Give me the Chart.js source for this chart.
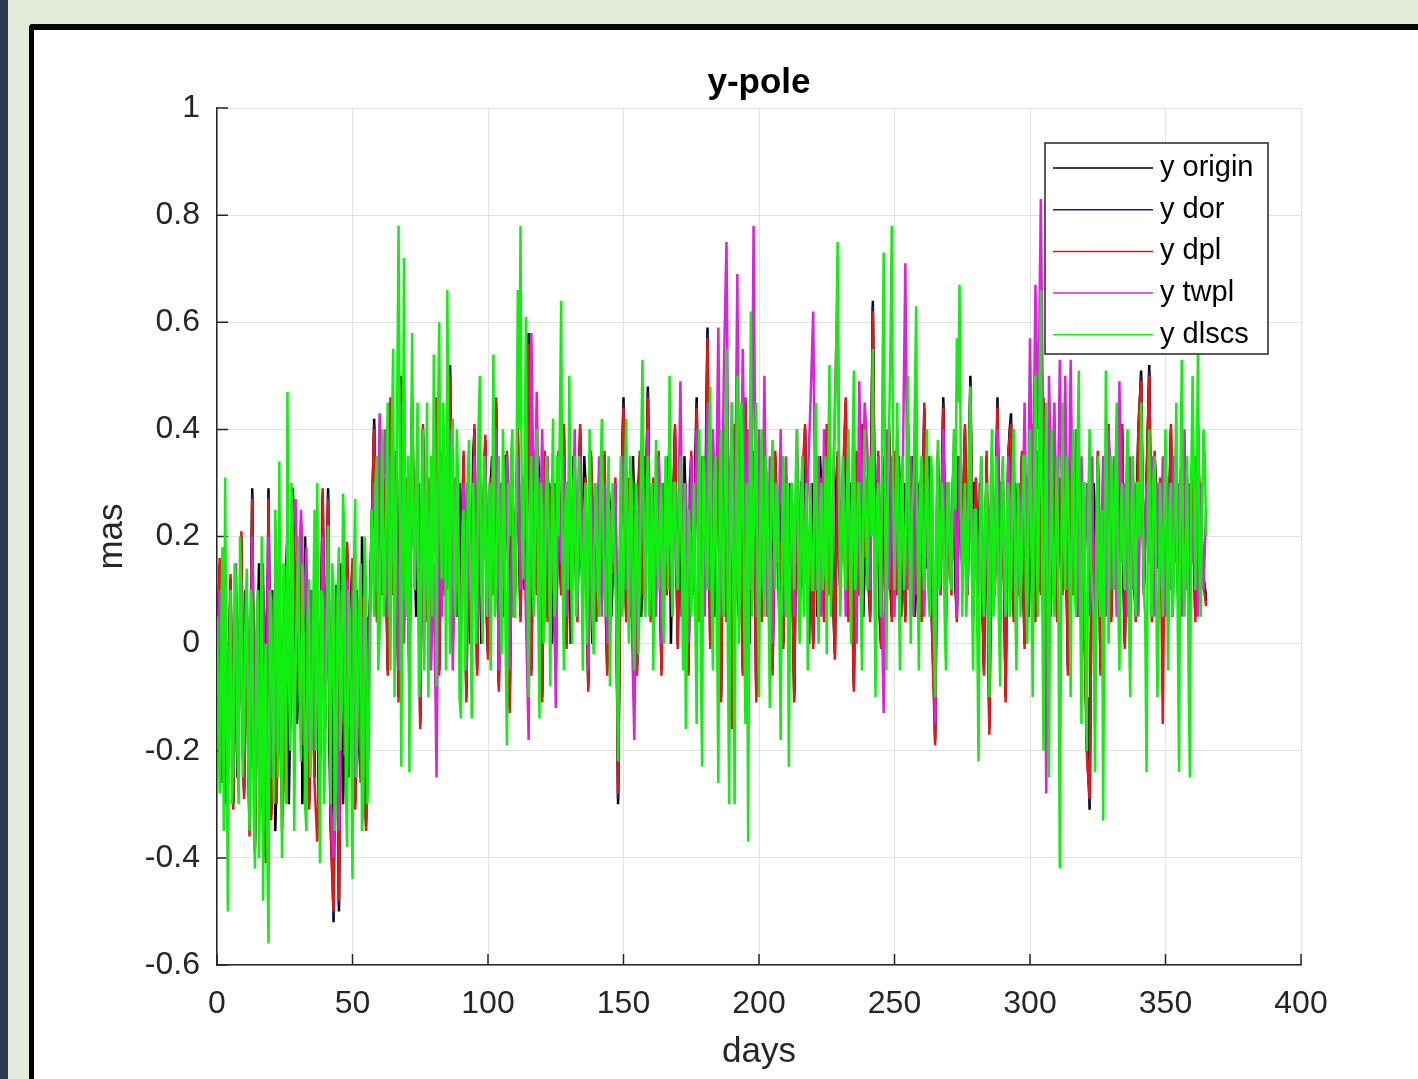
<!DOCTYPE html>
<html>
<head>
<meta charset="utf-8">
<title>y-pole</title>
<script src="https://cdn.jsdelivr.net/npm/chart.js@4.4.1/dist/chart.umd.min.js"></script>
<style>
  html, body { margin: 0; padding: 0; width: 1418px; height: 1079px; overflow: hidden; background: #e1ebd8; }
  #strip { position: absolute; left: 0; top: 0; width: 8px; height: 1079px; background: #2c394d; }
  #fig { position: absolute; left: 29px; top: 24px; width: 1400px; height: 1070px;
         border-left: 5px solid #000; border-top: 6px solid #000; border-top-left-radius: 4px; background: #fff; }
  #chartY { position: absolute; left: 0; top: 0; }
</style>
</head>
<body>
<div id="strip"></div>
<div id="fig"><canvas id="chartY" width="1384" height="1049"></canvas></div>
<script>
// ---- data (mas). daily samples, plus half-day samples where the picture is denser ----
const seriesNames = ["y origin", "y dor", "y dpl", "y twpl", "y dlscs"];
const xTicks = [0, 50, 100, 150, 200, 250, 300, 350, 400];
const yTicks = [-0.6, -0.4, -0.2, 0, 0.2, 0.4, 0.6, 0.8, 1];
const days = Array.from({ length: 366 }, (_, i) => i);

const yOrigin = [
  -.10,.15,-.25,.05,-.20,.12,-.30,.08,-.15,.20,
  -.28,.05,-.35,.29,-.38,.02,-.30,.10,-.40,.29,
  -.32,.05,-.25,.15,-.30,-.05,.20,-.15,.29,.05,
  -.10,.22,-.18,.10,-.30,.05,-.25,.15,-.20,.28,
  -.15,.29,-.35,-.52,.10,-.50,.05,-.20,.18,-.10,
  .15,-.30,.05,-.25,.10,-.34,-.05,.20,.42,.05,
  .35,.10,.30,-.05,.45,.10,.35,-.10,.50,.05,
  .30,-.05,.45,.15,.25,-.15,.40,.05,.30,.10,
  .20,.45,-.05,.35,.10,.25,.52,.00,.30,.15,
  .05,.35,-.10,.25,.10,.40,-.05,.30,.15,.38,
  -.02,.30,.10,.45,-.08,.25,.15,.35,-.12,.30,
  .10,.40,.05,.30,.20,.58,-.05,.35,.10,.30,
  -.10,.35,.05,.28,.15,-.05,.35,.10,.40,.00,
  .30,.15,.25,.05,.40,.10,.30,-.08,.35,.15,
  .05,.30,.10,.35,-.05,.25,.12,.30,-.30,.20,
  .46,.05,.30,.10,.25,-.05,.35,.10,.20,.48,
  .05,.30,.15,.35,-.05,.25,.10,.30,.15,.40,
  .00,.30,.10,.25,-.05,.35,.10,.46,.05,.30,
  .10,.59,.00,.35,.15,.45,-.10,.40,.05,.30,
  -.15,.40,.10,.30,-.05,.45,.10,.25,.35,-.10,
  .30,.05,.40,.10,.25,-.05,.35,.15,.20,.00,
  .30,.10,.25,-.10,.35,.05,.30,.40,.10,.20,
  .00,.35,.15,.30,.05,.40,.10,.20,-.02,.35,
  .10,.30,.45,.05,.25,-.08,.35,.10,.40,.15,
  .30,.05,.64,.10,.35,.00,.30,.15,.40,.05,
  .35,.10,.30,.20,.05,.40,.15,.30,.10,.25,
  .05,.44,.15,.30,.00,-.18,.35,.10,.46,.05,
  .25,.10,.35,.05,.30,.15,.40,.10,.50,.05,
  .30,.10,.25,-.05,.35,-.16,.30,.10,.46,.05,
  .30,-.10,.35,.43,.05,.25,.10,.35,.00,.30,
  .15,.40,.05,.35,.10,.45,-.05,.30,.15,.40,
  .05,.30,.10,.35,-.05,.40,.10,.25,.15,.30,
  .05,-.20,-.31,.25,.10,.35,-.05,.30,.15,.40,
  .05,.30,.10,.25,.40,.00,.35,.15,.30,.05,
  .40,.51,.10,.30,.52,.05,.35,.15,.30,.05,
  .35,.10,.40,.15,.25,.05,.35,.10,.30,.15,
  .35,.05,.40,.15,.13,.08
];
// y origin at day + 0.5
const yOriginMid = [
  .05,-.15,-.05,-.30,.00,-.15,-.05,-.25,.05,-.20,
  .10,-.20,.05,-.10,-.15,.15,-.20,.05,-.10,-.05,
  .10,-.35,.05,-.20,.10,.15,-.30,.10,-.20,-.15,
  .05,-.30,.20,-.15,.10,-.10,.05,-.30,.10,-.05,
  .10,-.20,.05,-.15,-.25,.15,-.30,.10,-.25,.10,
  -.15,.10,-.20,.20,-.25,.05,.10,.30,.15,.30,
  .15,.25,.10,.30,.20,.25,.05,.30,.20,.20,
  .10,.30,.20,.05,.30,.20,.10,.25,.15,.35,
  .30,.10,.30,.15,.35,.40,.20,.15,.05,.30,
  .25,.10,.30,.00,.35,.15,.25,.00,.30,.05,
  .20,.35,.15,.25,.30,.05,.35,.15,.20,.05,
  .30,.15,.30,.10,.45,.25,.20,.15,.35,.05,
  .20,.15,.30,.00,.30,.20,.15,.30,.20,.30,
  .00,.35,.10,.30,.15,.35,.05,.25,.00,.30,
  .20,.15,.35,.05,.30,.05,.25,.00,.05,.35,
  .15,.30,.05,.35,.10,.30,.05,.35,.30,.20,
  .20,.05,.30,.10,.30,.15,.35,.00,.30,.15,
  .20,.05,.35,.10,.30,.15,.35,.20,.25,.35,
  .40,.25,.30,.05,.35,.15,.25,.20,.35,.10,
  .20,.35,.05,.25,.20,.30,.00,.35,.15,.20,
  .15,.30,.20,.05,.30,.15,.25,.05,.35,.20,
  .15,.30,.05,.20,.15,.30,.10,.25,.00,.30,
  .25,.05,.35,.10,.30,.20,.25,.05,.30,.15,
  .25,.35,.20,.30,.05,.30,.20,.35,.05,.30,
  .10,.40,.30,.20,.05,.35,.10,.35,.10,.30,
  .20,.35,.05,.30,.25,.15,.35,.05,.30,.10,
  .30,.20,.35,.10,.05,.20,.25,.30,.20,.30,
  .15,.30,.10,.35,.20,.30,.15,.35,.25,.30,
  .15,.30,.05,.20,.05,.25,.15,.30,.20,.30,
  .10,.20,.40,.15,.30,.10,.25,.10,.25,.05,
  .35,.15,.30,.10,.35,.15,.20,.05,.35,.10,
  .25,.15,.30,.10,.25,.20,.30,.05,.30,.10,
  -.05,-.10,.05,.30,.15,.25,.05,.35,.20,.30,
  .15,.25,.05,.35,.10,.25,.20,.30,.10,.30,
  .45,.25,.20,.40,.25,.20,.30,.25,.10,.25,
  .20,.30,.05,.30,.10,.30,.20,.25,.05,.30,
  .15,.30,.25,.15,.10
];

const yDor = [
  -.11,.14,-.24,.06,-.21,.12,-.29,.07,-.16,.19,
  -.27,.06,-.34,.28,-.37,.03,-.31,.09,-.39,.28,
  -.31,.06,-.26,.14,-.29,-.04,.19,-.14,.28,.06,
  -.11,.21,-.17,.11,-.29,.06,-.24,.14,-.21,.27,
  -.14,.28,-.34,-.51,.11,-.49,.06,-.19,.17,-.09,
  .14,-.29,.06,-.24,.11,-.33,-.04,.19,.41,.06,
  .34,.11,.29,-.04,.44,.11,.34,-.09,.49,.06,
  .29,-.04,.44,.14,.26,-.14,.39,.06,.29,.11,
  .21,.44,-.04,.34,.11,.26,.51,.01,.29,.14,
  .06,.34,-.09,.26,.11,.39,-.04,.29,.14,.37,
  -.01,.29,.11,.44,-.07,.26,.14,.34,-.11,.29,
  .11,.39,.06,.29,.21,.57,-.04,.34,.11,.29,
  -.09,.34,.06,.27,.14,-.04,.34,.11,.39,.01,
  .29,.14,.26,.06,.39,.11,.29,-.07,.34,.14,
  .06,.29,.11,.34,-.04,.26,.11,.29,-.29,.21,
  .45,.06,.29,.11,.26,-.04,.34,.11,.21,.47,
  .06,.29,.14,.34,-.04,.26,.11,.29,.14,.39,
  .01,.29,.11,.26,-.04,.34,.11,.45,.06,.29,
  .11,.58,.01,.34,.14,.44,-.09,.39,.06,.29,
  -.14,.39,.11,.29,-.04,.44,.11,.26,.34,-.09,
  .29,.06,.39,.11,.26,-.04,.34,.14,.21,.01,
  .29,.11,.26,-.09,.34,.06,.29,.39,.11,.21,
  .01,.34,.14,.29,.06,.39,.11,.21,-.01,.34,
  .11,.29,.44,.06,.26,-.07,.34,.11,.39,.14,
  .29,.06,.63,.11,.34,.01,.29,.14,.39,.06,
  .34,.11,.29,.21,.06,.39,.14,.29,.11,.26,
  .06,.43,.14,.29,.01,-.17,.34,.11,.45,.06,
  .26,.11,.34,.06,.29,.14,.39,.11,.49,.06,
  .29,.11,.26,-.04,.34,-.15,.29,.11,.45,.06,
  .29,-.09,.34,.42,.06,.26,.11,.34,.01,.29,
  .14,.39,.06,.34,.11,.44,-.04,.29,.14,.39,
  .06,.29,.11,.34,-.04,.39,.11,.26,.14,.29,
  .06,-.19,-.30,.26,.11,.34,-.04,.29,.14,.39,
  .06,.29,.11,.26,.39,.01,.34,.14,.29,.06,
  .39,.50,.11,.29,.51,.06,.34,.14,.29,.06,
  .34,.11,.39,.14,.26,.06,.34,.11,.29,.14,
  .34,.06,.39,.14,.12,.09
];

const yDpl = [
  -.09,.16,-.26,.04,-.19,.13,-.31,.09,-.14,.21,
  -.29,.04,-.36,.27,-.39,.01,-.29,.11,-.41,.27,
  -.33,.04,-.30,.12,-.35,-.20,.18,-.16,.27,.04,
  -.09,.23,-.19,.09,-.31,.04,-.26,-.37,-.21,.29,
  -.16,.27,-.36,-.50,.09,-.48,.04,-.21,.19,-.11,
  .16,-.31,.04,-.26,.09,-.35,-.06,.21,.40,.04,
  .36,.09,.31,-.06,.46,.09,.36,-.11,.48,.04,
  .31,-.06,.46,.16,.24,-.16,.41,.04,.31,.09,
  .19,.46,-.06,.36,.09,.24,.50,-.01,.31,.16,
  .04,.36,-.11,.24,.09,.41,-.06,.31,.16,.39,
  -.03,.31,.09,.46,-.09,.24,.16,.36,-.13,.31,
  .09,.41,.04,.31,.19,.56,-.06,.36,.09,.31,
  -.11,.36,.04,.29,.16,-.06,.36,.09,.41,-.01,
  .31,.16,.24,.04,.41,.09,.31,-.09,.36,.16,
  .04,.31,.09,.36,-.06,.24,.13,.31,-.28,.19,
  .44,.04,.31,.09,.24,-.06,.36,.09,.19,.46,
  .04,.31,.16,.36,-.06,.24,.09,.31,.16,.41,
  -.01,.31,.09,.24,-.06,.36,.09,.44,.04,.31,
  .09,.57,-.01,.36,.16,.46,-.11,.41,.04,.31,
  -.16,.41,.09,.31,-.06,.46,.09,.24,.36,-.11,
  .31,.04,.41,.09,.24,-.06,.36,.16,.19,-.01,
  .31,.09,.24,-.11,.36,.04,.31,.41,.09,.19,
  -.01,.36,.16,.31,.04,.41,.09,.19,-.03,.36,
  .09,.31,.46,.04,.24,-.09,.36,.09,.41,.16,
  .31,.04,.62,.09,.36,-.01,.31,.16,.41,.04,
  .36,.09,.31,.19,.04,.41,.16,.31,.09,.24,
  .04,.45,.16,.31,-.01,-.19,.36,.09,.44,.04,
  .24,.09,.36,.04,.31,.16,.41,.09,.48,.04,
  .31,.09,.24,-.06,.36,-.17,.31,.09,.44,.04,
  .31,-.11,.36,.41,.04,.24,.09,.36,-.01,.31,
  .16,.41,.04,.36,.09,.46,-.06,.31,.16,.41,
  .04,.31,.09,.36,-.06,.41,.09,.24,.16,.31,
  .04,-.21,-.29,.24,.09,.36,-.06,.31,.16,.41,
  .04,.31,.09,.24,.41,-.01,.36,.16,.31,.04,
  .41,.49,.09,.31,.50,.04,.36,.16,.31,-.15,
  .36,.09,.41,.16,.24,.04,.36,.09,.31,.16,
  .36,.04,.41,.16,.11,.07
];

const yTwpl = [
  -.05,.10,-.22,.12,-.18,.05,-.25,.15,-.10,.12,
  -.20,.10,-.30,.20,-.30,.08,-.22,.15,-.35,.20,
  -.25,.10,-.20,.12,-.25,.00,.15,-.10,.22,.27,
  .04,.25,.05,.18,-.20,.10,-.20,.12,-.25,.20,
  -.10,.22,-.30,-.40,.05,-.35,.10,-.15,.12,-.05,
  .10,-.25,.08,-.20,.05,-.25,.00,.15,.30,.10,
  .43,.28,.40,.05,.35,.15,.30,-.05,.45,.00,
  .25,-.10,.40,.10,.30,-.10,.35,.10,.25,-.05,
  .15,-.25,.30,.05,.35,.10,.40,-.05,.30,.10,
  .00,.30,-.05,.25,.05,.35,.00,.30,.10,.35,
  .05,.30,.15,.40,-.05,.30,.10,.35,-.05,.25,
  .15,.35,.10,.30,.05,-.18,.58,.20,.47,.15,
  .40,.10,.35,.05,.30,-.12,.30,.15,.35,.05,
  .30,.10,.40,.05,.35,.15,.25,-.05,.30,.10,
  .10,.35,.05,.30,.00,.25,.15,.30,-.10,.25,
  .35,.10,.25,.05,-.18,.30,.10,.35,.05,.40,
  .10,.25,.05,.35,.00,.30,.15,.40,.05,.30,
  .15,.49,.05,.30,.00,.35,.10,.40,.10,.35,
  .05,.45,.10,.40,.20,.59,.05,.50,.75,.10,
  .45,.15,.69,.05,.55,.20,.40,.10,.78,.05,
  .40,.10,.50,.05,.35,.00,.30,.15,.40,.05,
  .35,.10,.30,.05,.40,.10,.35,.15,.30,.45,
  .62,.10,.35,.05,.40,.15,.30,.10,.45,.67,
  .10,.35,.05,.30,.15,.40,.00,.49,.20,.45,
  .36,.10,.45,.05,.35,.15,-.13,.40,.10,.35,
  .05,.40,.15,.30,.71,.10,.35,.05,.40,.10,
  .30,.05,.35,.10,.25,-.15,.30,.15,.40,.05,
  .30,.10,.40,.05,.35,.15,.30,.10,.40,.05,
  .25,.10,.35,.05,.30,-.05,.35,.10,.40,.05,
  .30,.05,.35,.10,.40,.00,.30,.15,.45,.10,
  .57,.20,.67,.40,.83,.30,-.28,.50,.25,.45,
  .15,.53,.20,.50,.10,.53,.15,.40,.05,.35,
  .10,.30,.05,.35,-.15,.30,.10,.35,.05,.40,
  .10,.35,.05,.49,.15,.30,.05,.35,.10,.30,
  .05,.40,.10,.30,.15,.35,.05,.30,.10,.35,
  .05,.30,.10,.35,.15,.30,.05,.40,.10,.30,
  .15,.35,.05,.30,.10,.25
];

const yDlscs = [
  .05,-.28,.18,.31,-.50,.10,-.22,.12,-.30,.08,
  -.15,.14,-.35,.05,-.42,.10,-.25,-.48,.00,-.56,
  .08,-.30,.12,.34,-.40,.05,.47,-.20,.15,-.05,
  .20,-.22,.02,-.35,.12,-.15,.25,.30,-.41,.08,
  -.18,.22,-.30,.10,-.25,.18,-.12,.20,-.38,.05,
  -.44,.27,-.10,.15,-.30,.10,-.20,.25,.05,.35,
  .02,.40,.10,.45,-.05,.55,.15,.78,-.23,.72,
  .05,-.24,.58,.10,.45,-.05,.40,.20,-.10,.35,
  .54,-.08,.60,.12,.30,.66,-.02,.42,.05,.30,
  -.14,.25,.05,.38,-.14,.22,.10,.50,.00,.30,
  .15,-.05,.54,.10,.35,-.02,.28,-.19,.20,.40,
  .05,.66,.78,.12,.61,-.10,.35,.05,.40,-.14,
  .25,.05,.30,-.08,.42,.10,.20,.64,-.05,.30,
  .50,.00,.35,.10,.25,-.05,.30,.12,.20,-.02,
  .28,.05,.42,.10,.25,-.08,.30,.12,-.22,.35,
  .10,.42,.00,.30,-.05,.25,.10,.53,.05,.35,
  .15,-.05,.38,.10,.30,.00,.25,.50,.05,.30,
  .10,.35,-.05,-.16,.25,.05,.30,-.15,.40,-.23,
  .30,.10,.48,-.05,.35,-.26,.40,.05,.55,-.30,
  .45,-.30,.50,.10,.35,-.15,-.37,.62,.20,.45,
  -.10,.40,.05,.30,-.12,.38,.10,.25,-.18,.35,
  .05,-.23,.30,.10,.40,.00,.35,.15,-.05,.30,
  .10,.45,.00,.30,.15,-.02,.52,.20,.40,.75,
  .05,.35,.10,.40,.00,.51,.15,.30,-.05,.40,
  .10,.35,.55,-.10,.30,.05,.73,-.05,.40,.78,
  .10,.45,-.05,.35,.15,.50,.00,.30,.63,-.05,
  .35,.10,.40,.05,.30,-.10,.38,.15,.25,-.05,
  .30,.10,.40,.57,.67,.05,.30,.15,.48,-.05,
  .25,-.22,.35,.05,.30,-.10,.40,.10,.25,-.08,
  .35,.05,.30,.10,.40,-.05,.25,.15,.35,.00,
  .40,-.10,.50,.05,.66,-.20,.45,-.25,.40,.05,
  .35,-.42,.45,.10,.30,-.10,.40,.05,.51,-.15,
  .30,-.20,.40,.10,-.24,.35,.05,-.33,.51,.00,
  .35,.10,.45,-.05,.30,.10,.40,-.10,.35,.05,
  .30,.45,.10,-.24,.40,.05,.35,-.10,.30,.05,
  .40,-.05,.30,.10,.45,-.24,.53,.05,.35,-.25,
  .50,.10,.56,.05,.40,.20
];
// y dlscs at day + 0.5
const yDlscsMid = [
  -.10,.02,-.35,-.10,-.05,-.30,.15,-.20,.20,-.25,
  .05,-.20,.10,-.30,.02,-.40,.20,-.10,-.35,.10,
  -.15,.25,-.25,-.10,.15,-.30,-.05,.30,-.35,.10,
  -.10,.15,-.30,.05,-.25,.05,-.20,-.10,.10,-.30,
  .05,-.10,.15,-.35,.10,-.20,.28,-.25,.10,-.15,
  .12,-.25,.05,-.35,.20,-.30,.00,.15,.30,-.05,
  .25,.05,.30,.10,.38,-.10,.45,.30,.20,.10,
  .35,.25,.20,.30,-.10,.30,-.05,.45,.15,.05,
  .25,.40,.20,.45,-.05,.25,.35,.10,.40,-.10,
  .20,-.05,.30,.10,.30,.00,.40,.10,.35,.05,
  .30,.20,.05,.25,.10,.40,.00,.30,.35,.05,
  .30,.40,.20,.35,.10,.25,.10,.30,.10,.30,
  .00,.35,.15,.25,.05,.35,.40,.15,.25,.10,
  .20,.30,.05,.35,.15,.25,.00,.40,.05,.30,
  .10,.30,.20,.05,.35,.15,.20,.00,.15,.05,
  .30,.15,.35,.05,.30,-.02,.35,.20,.25,.05,
  .30,.20,.15,.25,.05,.35,.10,.20,.30,.15,
  .25,.15,.30,.05,.20,.15,.05,.25,.00,.35,
  .15,.35,.10,.30,.05,.30,.10,.35,.00,.30,
  .15,.25,.00,.45,.05,.30,.25,.05,.35,.10,
  .25,.15,.35,.10,.30,.20,.30,.05,.20,.15,
  .30,.10,.25,.30,.15,.25,.05,.30,.20,.10,
  .30,.15,.25,.10,.35,.30,.05,.35,.55,.30,
  .20,.15,.30,.15,.35,.10,.30,.10,.25,.20,
  .30,.20,.15,.25,.15,.45,.30,.25,.55,.30,
  .25,.15,.30,.10,.30,.20,.25,.45,.15,.30,
  .15,.30,.10,.35,.05,.25,.10,.30,.05,.30,
  .15,.30,.25,.45,.30,.20,.05,.35,.15,.25,
  .05,.20,.10,.25,.15,.30,.05,.35,.05,.30,
  .15,.25,.05,.30,.10,.30,.05,.35,.10,.30,
  .20,.30,.15,.45,.10,.30,.05,.20,.10,.25,
  .05,.10,.20,.35,.15,.30,.10,.35,.10,.30,
  .00,.25,.15,.05,.20,.10,.25,.15,.30,.20,
  .25,.30,.10,.25,.15,.30,.05,.25,.15,.30,
  .20,.30,.05,.25,.10,.30,.15,.05,.20,.25,
  .15,.25,.05,.30,.05,.30,.15,.20,-.05,.30,
  .30,.30,.15,.25,.35
];

const seriesValues = [yOrigin, yDor, yDpl, yTwpl, yDlscs];
const seriesMid = [yOriginMid, null, null, null, yDlscsMid];
const seriesColors = ["#000000", "#1c1c6e", "#e01818", "#dd22dd", "#12ee12"];

// ---- styles ----
const FONT = "'Liberation Sans', Arial, Helvetica, sans-serif";
const INK = "#262626";

// build {x, y} points for one series, interleaving the half-day samples if any
function points(vals, mid) {
  const pts = [];
  vals.forEach((v, i) => {
    pts.push({ x: days[i], y: v });
    if (mid && i < mid.length) pts.push({ x: days[i] + 0.5, y: mid[i] });
  });
  return pts;
}

// title drawn centred over the plot area (matlab style)
const titlePlugin = {
  id: "axTitle",
  afterDraw(chart) {
    const { ctx, chartArea } = chart;
    ctx.save();
    ctx.font = "bold 35px " + FONT;
    ctx.fillStyle = "#000";
    ctx.textAlign = "center";
    ctx.textBaseline = "middle";
    ctx.fillText("y-pole", (chartArea.left + chartArea.right) / 2, chartArea.top - 25);
    ctx.restore();
  }
};

// inward tick marks on the left and bottom axes
const inTicks = {
  id: "inTicks",
  beforeDatasetsDraw(chart) {
    const { ctx, chartArea, scales } = chart;
    ctx.save();
    ctx.strokeStyle = INK;
    ctx.lineWidth = 1.5;
    ctx.beginPath();
    scales.x.ticks.forEach(t => {
      const px = scales.x.getPixelForValue(t.value);
      ctx.moveTo(px, chartArea.bottom);
      ctx.lineTo(px, chartArea.bottom - 11);
    });
    scales.y.ticks.forEach(t => {
      const py = scales.y.getPixelForValue(t.value);
      ctx.moveTo(chartArea.left, py);
      ctx.lineTo(chartArea.left + 11, py);
    });
    ctx.stroke();
    ctx.restore();
  }
};

// boxed legend inside the top-right corner of the axes
const boxLegend = {
  id: "boxLegend",
  afterDraw(chart) {
    const { ctx, chartArea } = chart;
    const ds = chart.data.datasets;
    const w = 223, rowH = 41.7;
    const x0 = chartArea.right - 33 - w;
    const y0 = chartArea.top + 35;
    const h = 211;
    ctx.save();
    ctx.fillStyle = "#fff";
    ctx.fillRect(x0, y0, w, h);
    ctx.strokeStyle = INK;
    ctx.lineWidth = 1.5;
    ctx.strokeRect(x0, y0, w, h);
    ctx.font = "29px " + FONT;
    ctx.textBaseline = "middle";
    ds.forEach((d, i) => {
      const cy = y0 + 25 + i * rowH;
      ctx.strokeStyle = d.borderColor;
      ctx.lineWidth = 1.5;
      ctx.beginPath();
      ctx.moveTo(x0 + 8, cy);
      ctx.lineTo(x0 + 108, cy);
      ctx.stroke();
      ctx.fillStyle = "#000";
      ctx.fillText(d.label, x0 + 115, cy);
    });
    ctx.restore();
  }
};

new Chart(document.getElementById("chartY"), {
  type: "line",
  data: {
    datasets: seriesNames.map((name, i) => ({
      label: name,
      data: points(seriesValues[i], seriesMid[i]),
      borderColor: seriesColors[i],
      borderWidth: 2.5,
      pointRadius: 0,
      tension: 0,
      order: seriesNames.length - i   // last series drawn on top
    }))
  },
  options: {
    responsive: false,
    animation: false,
    events: [],
    layout: { padding: { left: 0, right: 117, top: 78, bottom: 0 } },
    plugins: { legend: { display: false }, tooltip: { enabled: false }, title: { display: false } },
    scales: {
      x: {
        type: "linear",
        min: 0, max: 400,
        afterBuildTicks: s => { s.ticks = xTicks.map(v => ({ value: v })); },
        afterFit: s => { s.height = 114; },
        grid: { color: "#e2e2e2", drawTicks: false },
        border: { color: INK, width: 1.5 },
        ticks: { padding: 20, color: INK, font: { size: 32, family: FONT }, maxRotation: 0,
                 callback: v => String(v) },
        title: { display: true, text: "days", color: INK, font: { size: 35, family: FONT },
                 padding: { top: 0, bottom: 6 } }
      },
      y: {
        min: -0.6, max: 1,
        afterBuildTicks: s => { s.ticks = yTicks.map(v => ({ value: v })); },
        afterFit: s => { s.width = 183; },
        grid: { color: "#e2e2e2", drawTicks: false },
        border: { color: INK, width: 1.5 },
        ticks: { padding: 17, color: INK, font: { size: 32, family: FONT },
                 callback: v => String(+v.toFixed(1)) },
        title: { display: true, text: "mas", color: INK, font: { size: 35, family: FONT },
                 padding: { top: 57, bottom: 0 } }
      }
    }
  },
  plugins: [titlePlugin, inTicks, boxLegend]
});
</script>
</body>
</html>
